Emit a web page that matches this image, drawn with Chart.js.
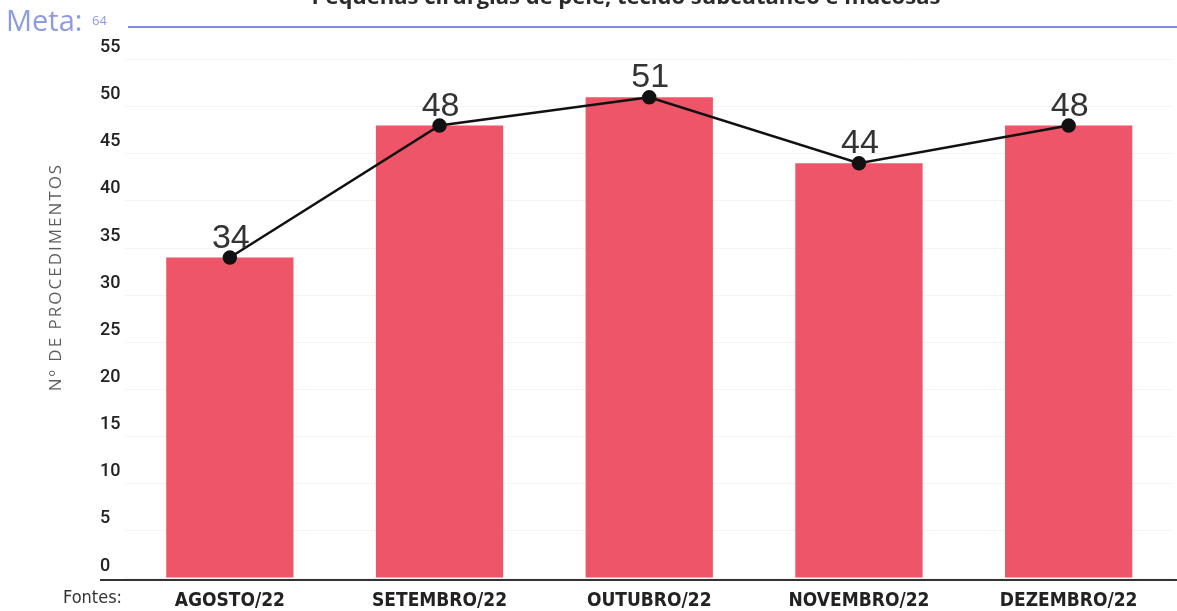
<!DOCTYPE html>
<html lang="pt-BR">
<head>
<meta charset="utf-8">
<title>Pequenas cirurgias de pele, tecido subcutâneo e mucosas</title>
<script src="https://cdn.jsdelivr.net/npm/chart.js@4/dist/chart.umd.min.js"></script>
<style>
    html, body { margin: 0; padding: 0; background: #ffffff; overflow: hidden; }
    #wrap { position: relative; width: 1182px; height: 611px; }
</style>
</head>
<body>
<div id="wrap"><canvas id="grafico"></canvas></div>
<script>
// dados
const meses = ['AGOSTO/22', 'SETEMBRO/22', 'OUTUBRO/22', 'NOVEMBRO/22', 'DEZEMBRO/22'];
const procedimentos = [34, 48, 51, 44, 48];
const tendencia = [34, 48, 51, 44, 48];
const ticksEixoY = [0, 5, 10, 15, 20, 25, 30, 35, 40, 45, 50, 55];
const meta = 64;
const tituloGrafico = 'Pequenas cirurgias de pele, tecido subcutâneo e mucosas';
const tituloEixoY = 'Nº DE PROCEDIMENTOS';

/**
 * Desenha os textos e linhas extras (título cortado, meta, fontes, rótulos).
 */
const extrasPlugin = {
    id: 'extras',
    afterDraw(chart) {
        const ctx = chart.ctx;
        const area = chart.chartArea;
        ctx.save();

        // título (cortado no topo, como na imagem)
        ctx.fillStyle = '#2b2b2b';
        ctx.font = "bold 22px 'Open Sans', sans-serif";
        ctx.textAlign = 'center';
        ctx.textBaseline = 'alphabetic';
        ctx.fillText(tituloGrafico, 626, 4);

        // meta
        ctx.fillStyle = '#8d9be0';
        ctx.font = "29px 'Open Sans', sans-serif";
        ctx.textAlign = 'left';
        ctx.textBaseline = 'middle';
        ctx.fillText('Meta:', 6, 23);
        ctx.font = "13px 'Open Sans', sans-serif";
        ctx.fillText(String(meta), 92, 21);
        ctx.strokeStyle = '#7f8fe0';
        ctx.lineWidth = 2;
        ctx.beginPath();
        ctx.moveTo(128, 27);
        ctx.lineTo(chart.width, 27);
        ctx.stroke();

        // título do eixo Y
        ctx.save();
        ctx.translate(56, 277);
        ctx.rotate(-Math.PI / 2);
        ctx.fillStyle = '#5e5e5e';
        ctx.font = "17px 'Open Sans', sans-serif";
        ctx.textAlign = 'center';
        ctx.textBaseline = 'middle';
        if ('letterSpacing' in ctx) ctx.letterSpacing = '2px';
        ctx.fillText(tituloEixoY, 0, 0);
        ctx.restore();

        // linha do eixo X
        ctx.strokeStyle = '#333333';
        ctx.lineWidth = 2;
        ctx.beginPath();
        ctx.moveTo(100, area.bottom + 2);
        ctx.lineTo(chart.width, area.bottom + 2);
        ctx.stroke();

        // fontes
        ctx.fillStyle = '#333333';
        ctx.font = "18px 'Liberation Sans Narrow', 'DejaVu Sans Condensed', sans-serif";
        ctx.textAlign = 'left';
        ctx.textBaseline = 'middle';
        ctx.fillText('Fontes:', 63, 598);

        // rótulos de valor acima dos pontos
        const pontos = chart.getDatasetMeta(1).data;
        ctx.fillStyle = '#333333';
        ctx.font = "34px 'Liberation Sans', Arial, sans-serif";
        ctx.textAlign = 'center';
        ctx.textBaseline = 'alphabetic';
        pontos.forEach((p, i) => {
            ctx.fillText(String(tendencia[i]), p.x + 1, p.y - 10);
        });

        ctx.restore();
    }
};

function createComboChart(canvasId) {
    const ctx = document.getElementById(canvasId).getContext('2d');

    return new Chart(ctx, {
        data: {
            labels: meses,
            datasets: [
                {
                    type: 'bar',
                    label: 'Procedimentos',
                    data: procedimentos,
                    backgroundColor: '#ef5568',
                    barPercentage: 0.607,
                    categoryPercentage: 1,
                    order: 2
                },
                {
                    type: 'line',
                    label: 'Tendência',
                    data: tendencia,
                    borderColor: '#111111',
                    backgroundColor: '#111111',
                    borderWidth: 2.5,
                    pointRadius: 6,
                    pointBackgroundColor: '#111111',
                    tension: 0,
                    order: 1
                }
            ]
        },
        options: {
            responsive: true,
            maintainAspectRatio: false,
            animation: false,
            layout: {
                padding: { left: 100, right: 0, top: 36, bottom: 0 }
            },
            plugins: {
                legend: { display: false },
                tooltip: { enabled: false }
            },
            scales: {
                x: {
                    grid: { display: false },
                    border: { display: false },
                    ticks: {
                        color: '#222222',
                        padding: 4,
                        maxRotation: 0,
                        font: {
                            family: "'Liberation Sans Narrow', 'DejaVu Sans Condensed', sans-serif",
                            size: 19,
                            weight: 'bold'
                        }
                    },
                    afterFit(scale) { scale.height = 33; }
                },
                y: {
                    min: 0,
                    max: 57.5,
                    afterBuildTicks(scale) {
                        scale.ticks = ticksEixoY.map(v => ({ value: v }));
                    },
                    grid: {
                        color: '#f4f4f4',
                        drawTicks: false
                    },
                    border: { display: false },
                    ticks: {
                        color: '#222222',
                        crossAlign: 'far',
                        labelOffset: -12,
                        padding: 4,
                        font: {
                            family: "Roboto, sans-serif",
                            size: 18,
                            weight: '500'
                        }
                    },
                    afterFit(scale) { scale.width = 25; }
                }
            }
        },
        plugins: [extrasPlugin]
    });
}

createComboChart('grafico');
</script>
</body>
</html>
